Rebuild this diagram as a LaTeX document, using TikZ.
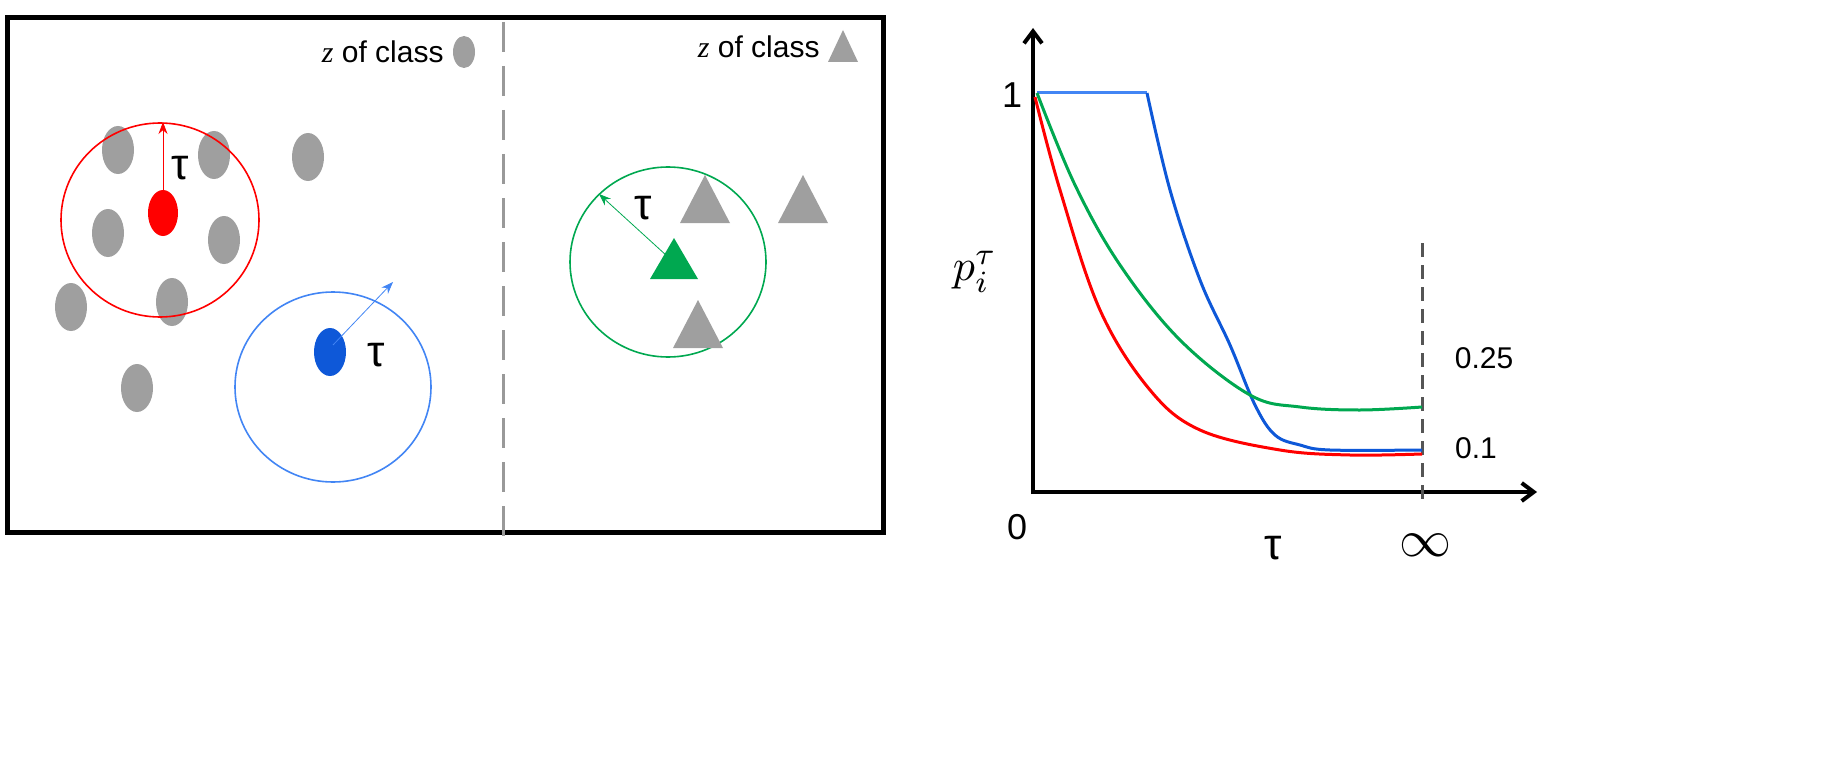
\documentclass[tikz,border=0pt]{standalone}
\usepackage{graphicx}
\usepackage{fontspec}
\setmainfont{Liberation Sans}
\newfontfamily\zfont{Liberation Serif}
\usetikzlibrary{arrows.meta}
\begin{document}
\begin{tikzpicture}[x=0.5pt,y=-0.5pt,
  gdot/.style={fill=gray!75!white,draw=none},
  gtri/.style={fill=gray!75!white,draw=none},
  lbl/.style={font=\fontsize{15}{17}\selectfont,inner sep=0pt},
  taul/.style={font=\fontsize{22}{22}\selectfont,inner sep=0pt},
  rad/.style={-{Stealth[length=6pt,width=4.5pt]},line width=0.4pt},
  curve/.style={line width=1.5pt}]
\path[use as bounding box] (0,0) rectangle (1847,765);
\definecolor{lblue}{RGB}{66,133,244}
\definecolor{dblue}{RGB}{14,88,216}
\definecolor{grn}{RGB}{0,168,80}
\draw[line width=2.5pt] (7,18) rectangle (883,532);
\draw[gray!80!white,line width=1.5pt,dash pattern=on 15pt off 7pt] (503,22) -- (503,542);
\node[lbl,anchor=east] (t1) at (444,52) {{\zfont\itshape z} of class};
\fill[gray!75!white] (464,52) ellipse (11 and 16);
\node[lbl,anchor=east] (t2) at (820,47) {{\zfont\itshape z} of class};
\fill[gray!75!white] (843,30) -- (858,62) -- (828,62) -- cycle;
\foreach \p in {(118,150),(214,155),(308,157),(108,233),(224,240),(71,307),(172,302),(137,388)}
  \fill[gdot] \p ellipse (16 and 24);
% red
\draw[red,line width=0.8pt] (160,220) ellipse (99 and 97);
\fill[red] (163,213) ellipse (15 and 23);
\coordinate (rc) at (163,213);
\coordinate (rt) at (163,122);
\draw[rad,red] (rc) -- (rt);
\node[taul] (tr) at (180,168) {τ};
% blue
\draw[lblue,line width=0.8pt] (333,387) ellipse (98 and 95);
\fill[dblue] (330,352) ellipse (16 and 24);
\coordinate (bc) at (333,345);
\coordinate (bt) at (393,282);
\draw[rad,lblue] (bc) -- (bt);
\node[taul] (tb) at (376,355) {τ};
% green
\draw[grn,line width=0.8pt] (668,262) ellipse (98 and 95);
\foreach \x/\y in {705/175,803/175,698/300}
  \fill[gtri] (\x,\y) -- (\x+25,\y+48) -- (\x-25,\y+48) -- cycle;
\fill[grn] (674,238) -- (698,279) -- (650,279) -- cycle;
\coordinate (gc) at (667,256);
\coordinate (gt) at (599,194);
\draw[rad,grn] (gc) -- (gt);
\node[taul] (tg) at (643,208) {τ};
% graph
\draw[line width=2pt,-{Straight Barb[length=6pt,width=9pt]}] (1033,494) -- (1033,28);
\draw[line width=2pt,-{Straight Barb[length=6pt,width=9pt]}] (1031,492) -- (1537,492);
\draw[color={rgb,255:red,85;green,85;blue,85},line width=1.5pt,dash pattern=on 7pt off 4pt] (1422,243) -- (1422,500);
\draw[curve,lblue] (1037,93) -- (1147,93);
\draw[curve,dblue] plot[smooth,tension=0.6] coordinates {(1147,93) (1170,190) (1200,280) (1230,345) (1255,405) (1275,435) (1300,445) (1330,450) (1422,450)};
\draw[curve,grn] plot[smooth,tension=0.6] coordinates {(1037,93) (1075,185) (1120,265) (1180,340) (1250,395) (1300,407) (1360,410) (1422,407)};
\draw[curve,red] plot[smooth,tension=0.6] coordinates {(1035,97) (1060,190) (1100,310) (1150,390) (1200,430) (1280,450) (1350,455) (1422,454)};
\node[lbl,font=\fontsize{18}{18}\selectfont] (l1) at (1012,95) {1};
\node[lbl,font=\fontsize{18}{18}\selectfont] (l0) at (1017,527) {0};
\node[lbl] (l25) at (1484,358) {0.25};
\node[lbl] (l01) at (1476,448) {0.1};
\node[taul] (lt) at (1273,548) {τ};
\node[inner sep=0pt] (linf) at (1425,545) {\scalebox{2.6}{$\infty$}};
\node[inner sep=0pt] (lp) at (975,272) {\scalebox{2.2}{$p_i^\tau$}};
\end{tikzpicture}
\end{document}
